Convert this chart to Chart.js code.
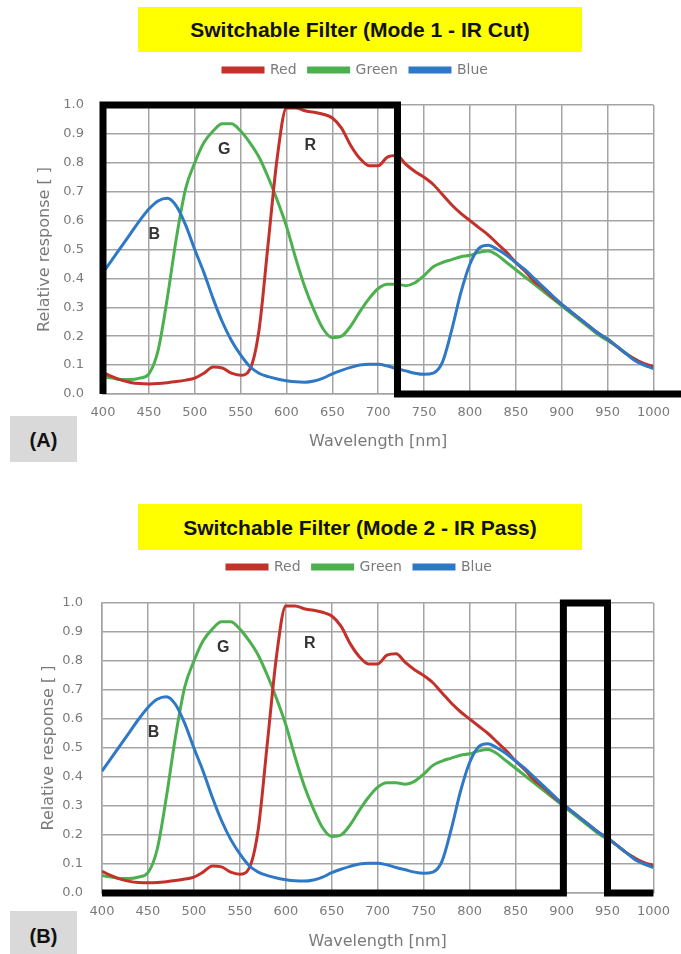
<!DOCTYPE html>
<html>
<head>
<meta charset="utf-8">
<script src="https://cdn.jsdelivr.net/npm/chart.js@4.4.1/dist/chart.umd.min.js"></script>
<style>
body { margin: 0; background: #fff; width: 681px; height: 954px; position: relative; overflow: hidden; font-family: "Liberation Sans", Arial, sans-serif; }
canvas { position: absolute; left: 0; }
.title { position: absolute; left: 138px; width: 444px; background: #ffff00; color: #111; font-weight: bold; font-size: 21px; text-align: center; }
.tag { position: absolute; left: 10px; width: 67px; background: #d9d9d9; color: #111; font-weight: bold; font-size: 20px; text-align: center; }
</style>
</head>
<body>
<div class="title" style="top:7px;height:45px;line-height:46px;">Switchable Filter (Mode 1 - IR Cut)</div>
<div class="tag" style="top:416px;height:46px;line-height:48px;">(A)</div>
<canvas id="chartA" width="681" height="470" style="top:0px"></canvas>

<div class="title" style="top:504px;height:46px;line-height:47px;">Switchable Filter (Mode 2 - IR Pass)</div>
<div class="tag" style="top:911px;height:43px;line-height:50px;">(B)</div>
<canvas id="chartB" width="681" height="477" style="top:477px"></canvas>

<script>
// wavelength grid (nm) and read-off relative responses
const wavelengths = [400,410,420,430,440,450,460,470,480,490,500,510,520,530,540,550,560,570,580,590,
  600,610,620,630,640,650,660,670,680,690,700,710,720,730,740,750,760,770,780,790,
  800,810,820,830,840,850,860,870,880,890,900,910,920,930,940,950,960,970,980,990,1000];

const redValues = [0.075,0.06,0.048,0.04,0.036,0.035,0.036,0.039,0.043,0.048,0.055,0.072,0.093,0.09,0.072,0.065,0.085,0.22,0.52,0.82,
  0.99,0.99,0.98,0.975,0.968,0.955,0.92,0.86,0.815,0.79,0.79,0.82,0.825,0.795,0.77,0.75,0.725,0.69,0.655,0.625,
  0.60,0.575,0.55,0.52,0.49,0.455,0.425,0.39,0.365,0.335,0.31,0.285,0.26,0.235,0.21,0.19,0.165,0.14,0.12,0.105,0.095];

const greenValues = [0.06,0.055,0.05,0.05,0.055,0.07,0.15,0.33,0.54,0.71,0.80,0.87,0.91,0.935,0.935,0.91,0.87,0.82,0.75,0.67,
  0.58,0.47,0.37,0.29,0.225,0.195,0.20,0.235,0.285,0.33,0.365,0.38,0.38,0.375,0.385,0.41,0.44,0.455,0.465,0.475,
  0.48,0.49,0.495,0.48,0.455,0.43,0.405,0.38,0.355,0.33,0.305,0.28,0.255,0.23,0.205,0.185,0.165,0.14,0.12,0.10,0.09];

const blueValues = [0.42,0.465,0.51,0.555,0.60,0.64,0.668,0.677,0.65,0.585,0.50,0.42,0.33,0.25,0.185,0.135,0.095,0.072,0.06,0.052,
  0.046,0.042,0.041,0.045,0.055,0.07,0.082,0.092,0.10,0.103,0.103,0.097,0.088,0.08,0.072,0.068,0.072,0.11,0.22,0.35,
  0.45,0.505,0.515,0.50,0.48,0.455,0.43,0.40,0.37,0.34,0.31,0.285,0.26,0.235,0.21,0.19,0.165,0.14,0.115,0.10,0.088];

// filter transmission outlines
const irCutNm = [400,400,721,721,1045];
const irCutValues = [0,1,1,0,0];
const irPassNm = [400,902,902,950,950,1000];
const irPassValues = [0,0,1,1,0,0];

// curve letters
const letterText = ['B','G','R'];
const letterNm = [456,532,626];
const letterValues = [0.553,0.847,0.861];

const RED = '#c4302a';
const GREEN = '#4cb04f';
const BLUE = '#2f78c6';
const GRID = '#a4a4a4';
const TICK = '#7a7a7a';

function toPoints(xs, ys)
{
    return xs.map((x, i) => ({x: x, y: ys[i]}));
}

const letterPlugin = {
    id: 'letters',
    afterDatasetsDraw(chart) {
        const ctx = chart.ctx;
        const xs = chart.scales.x, ys = chart.scales.y;
        ctx.save();
        ctx.font = 'bold 16px "Liberation Sans", Arial, sans-serif';
        ctx.fillStyle = '#333';
        ctx.textAlign = 'center';
        ctx.textBaseline = 'middle';
        for (let i = 0; i < letterText.length; i++) {
            ctx.fillText(letterText[i], xs.getPixelForValue(letterNm[i]), ys.getPixelForValue(letterValues[i]));
        }
        ctx.restore();
    }
};

function buildChart(id, filterNm, filterValues, box)
{
    // legend keeps a fixed block height so the plot starts where it should,
    // then gets moved to its own spot
    const legendPlace = {
        id: 'legendPlace',
        beforeLayout(chart) {
            const lg = chart.legend;
            if (lg && !lg.patched) {
                const fit = lg.fit;
                lg.fit = function() { fit.call(this); this.height = box.top; };
                lg.patched = true;
            }
        },
        afterLayout(chart) {
            const lg = chart.legend;
            if (lg) {
                lg.left = box.legendLeft - 12;
                lg.top = box.legendTop;
                lg.bottom = box.legendTop + 40;
            }
        }
    };

    return new Chart(document.getElementById(id), {
        type: 'line',
        data: {
            datasets: [
                {label: 'Red', data: toPoints(wavelengths, redValues), borderColor: RED, backgroundColor: RED, borderWidth: 3, pointRadius: 0, cubicInterpolationMode: 'monotone', order: 2},
                {label: 'Green', data: toPoints(wavelengths, greenValues), borderColor: GREEN, backgroundColor: GREEN, borderWidth: 3, pointRadius: 0, cubicInterpolationMode: 'monotone', order: 3},
                {label: 'Blue', data: toPoints(wavelengths, blueValues), borderColor: BLUE, backgroundColor: BLUE, borderWidth: 3, pointRadius: 0, cubicInterpolationMode: 'monotone', order: 1},
                {label: 'filter', data: toPoints(filterNm, filterValues), borderColor: '#000', backgroundColor: '#000', borderWidth: 7, pointRadius: 0, tension: 0, clip: false, borderJoinStyle: 'miter', order: 0}
            ]
        },
        options: {
            responsive: false,
            animation: false,
            layout: {padding: {top: 0, left: 0, bottom: 0, right: box.right}},
            plugins: {
                tooltip: {enabled: false},
                legend: {
                    align: 'start',
                    labels: {
                        filter: item => item.text !== 'filter',
                        sort: (a, b) => a.datasetIndex - b.datasetIndex,
                        boxWidth: 40,
                        boxHeight: 4,
                        padding: 12,
                        color: TICK,
                        font: {family: '"DejaVu Sans"', size: 14}
                    }
                }
            },
            scales: {
                x: {
                    type: 'linear',
                    min: 400,
                    max: 1000,
                    afterFit: s => { s.height = box.xHeight; },
                    border: {color: GRID, width: 1.5},
                    grid: {color: GRID, lineWidth: 1.5, drawTicks: false},
                    ticks: {stepSize: 50, padding: 11, color: TICK, font: {family: '"DejaVu Sans"', size: 13}, callback: v => String(v)},
                    title: {display: true, text: 'Wavelength [nm]', color: TICK, font: {family: '"DejaVu Sans"', size: 16}, padding: {top: 0, bottom: box.xTitlePad}}
                },
                y: {
                    min: 0,
                    max: 1,
                    afterFit: s => { s.width = box.left; },
                    border: {color: GRID, width: 1.5},
                    grid: {color: GRID, lineWidth: 1.5, drawTicks: false},
                    ticks: {stepSize: 0.1, padding: 19, color: TICK, font: {family: '"DejaVu Sans"', size: 13}, callback: v => v.toFixed(1)},
                    title: {display: true, text: 'Relative response [ ]', color: TICK, font: {family: '"DejaVu Sans"', size: 16}, padding: {top: box.yTitlePad, bottom: 0}}
                }
            }
        },
        plugins: [letterPlugin, legendPlace]
    });
}

buildChart('chartA', irCutNm, irCutValues, {top: 105, left: 103, right: 25, xHeight: 76, xTitlePad: 19, yTitlePad: 35, legendLeft: 223, legendTop: 51});
buildChart('chartB', irPassNm, irPassValues, {top: 126, left: 102, right: 18, xHeight: 61, xTitlePad: 3, yTitlePad: 39, legendLeft: 227, legendTop: 71});
</script>
</body>
</html>
